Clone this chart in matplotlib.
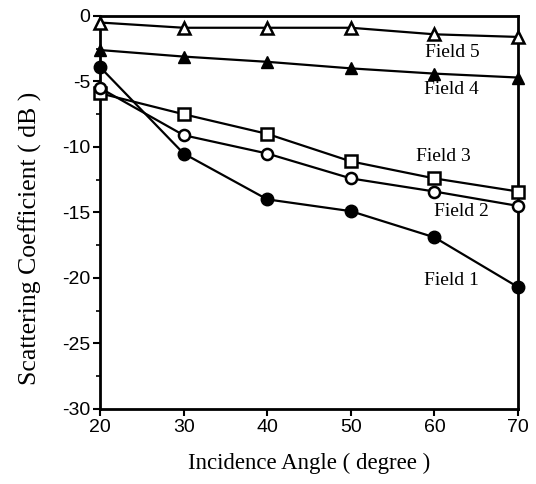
import matplotlib
matplotlib.use("Agg")
import matplotlib.pyplot as plt
from matplotlib.ticker import MultipleLocator

plt.rcParams['axes.unicode_minus'] = False

angles = [20, 30, 40, 50, 60, 70]
field1 = [-3.9, -10.5, -14.0, -14.9, -16.9, -20.7]
field2 = [-5.5, -9.1, -10.5, -12.4, -13.4, -14.5]
field3 = [-5.9, -7.5, -9.0, -11.1, -12.4, -13.4]
field4 = [-2.6, -3.1, -3.5, -4.0, -4.4, -4.7]
field5 = [-0.5, -0.9, -0.9, -0.9, -1.4, -1.6]

labels = ["Field 1", "Field 2", "Field 3", "Field 4", "Field 5"]
label_pos = [(62.0, -20.2), (63.2, -14.9), (61.1, -10.7), (62.0, -5.6), (62.1, -2.8)]

fig = plt.figure(figsize=(5.36, 4.84), dpi=100)
ax = fig.add_axes([0.1866, 0.155, 0.78, 0.812])

serif = "Liberation Serif"
sans = "Liberation Sans"

kw = dict(color="black", lw=1.6, clip_on=False, zorder=3)
ax.plot(angles, field5, marker="^", ms=9, mfc="white", mec="black", mew=1.8, **kw)
ax.plot(angles, field4, marker="^", ms=9, mfc="black", mec="black", **kw)
ax.plot(angles, field3, marker="s", ms=8, mfc="white", mec="black", mew=1.8, **kw)
ax.plot(angles, field2, marker="o", ms=8, mfc="white", mec="black", mew=1.8, **kw)
ax.plot(angles, field1, marker="o", ms=9, mfc="black", mec="black", **kw)

for lab, (x, y) in zip(labels, label_pos):
    ax.text(x, y, lab, family=serif, fontsize=14, ha="center", va="center")

ax.set_xlim(20, 70)
ax.set_ylim(-30, 0)
ax.xaxis.set_major_locator(MultipleLocator(10))
ax.yaxis.set_major_locator(MultipleLocator(5))
ax.yaxis.set_minor_locator(MultipleLocator(2.5))
ax.tick_params(axis="both", which="major", direction="out", length=5, width=1.5,
               labelsize=14, pad=2)
ax.tick_params(axis="y", which="minor", direction="out", length=3, width=1.2)
for lbl in ax.get_xticklabels() + ax.get_yticklabels():
    lbl.set_family(sans)
for s in ax.spines.values():
    s.set_linewidth(2)

ax.set_xlabel("Incidence Angle ( degree )", family=serif, fontsize=16.5, labelpad=12)
ax.set_ylabel("Scattering Coefficient ( dB )", family=serif, fontsize=18.5)
ax.yaxis.set_label_coords(-0.138, 0.435)

fig.savefig("out.png", dpi=100)
